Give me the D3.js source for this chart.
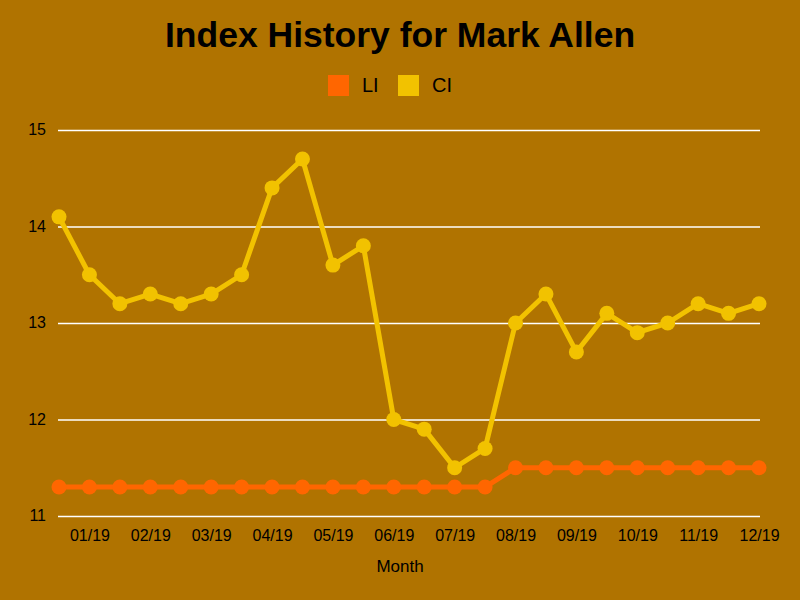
<!DOCTYPE html>
<html><head><meta charset="utf-8">
<script src="https://cdn.jsdelivr.net/npm/d3@7"></script>
<style>body{margin:0;background:#B07300;}text{font-family:"Liberation Sans",Arial,sans-serif;}</style>
</head><body><svg id="c" width="800" height="600"></svg>
<script>
const periods = ["12/18b","01/19","01/19b","02/19","02/19b","03/19","03/19b","04/19","04/19b","05/19","05/19b","06/19","06/19b","07/19","07/19b","08/19","08/19b","09/19","09/19b","10/19","10/19b","11/19","11/19b","12/19"];
const tickLabels = ["01/19","02/19","03/19","04/19","05/19","06/19","07/19","08/19","09/19","10/19","11/19","12/19"];
const liValues = [11.3,11.3,11.3,11.3,11.3,11.3,11.3,11.3,11.3,11.3,11.3,11.3,11.3,11.3,11.3,11.5,11.5,11.5,11.5,11.5,11.5,11.5,11.5,11.5];
const ciValues = [14.1,13.5,13.2,13.3,13.2,13.3,13.5,14.4,14.7,13.6,13.8,12.0,11.9,11.5,11.7,13.0,13.3,12.7,13.1,12.9,13.0,13.2,13.1,13.2];
const yTicks = [11,12,13,14,15];
const seriesNames = ["LI","CI"];
const colors = ["#FF6600","#F2C200"];

const svg = d3.select("#c");
svg.append("rect").attr("width",800).attr("height",600).attr("fill","#B07300");
const x = d3.scalePoint().domain(periods).range([59,759]);
const y = d3.scaleLinear().domain([11,15]).range([516,130]);

svg.append("text").attr("x",400).attr("y",47).attr("text-anchor","middle")
  .style("font-size","35.5px").style("font-weight","bold").text("Index History for Mark Allen");

const yAxis = d3.axisLeft(y).tickValues(yTicks).tickSize(-702).tickFormat(d3.format("d")).tickPadding(12);
svg.append("g").attr("transform","translate(58,0)").call(yAxis)
  .call(g=>g.select(".domain").remove())
  .call(g=>g.selectAll(".tick line").attr("stroke","#fff").attr("stroke-width",1.6))
  .call(g=>g.selectAll(".tick text").attr("fill","#000").style("font-size","16px").attr("x",-12).attr("dy","0.3em"));

const xAxis = d3.axisBottom(x).tickValues(tickLabels).tickSize(0).tickPadding(12);
svg.append("g").attr("transform","translate(0,518)").call(xAxis)
  .call(g=>g.select(".domain").remove())
  .call(g=>g.selectAll(".tick text").attr("fill","#000").style("font-size","16px"));

svg.append("text").attr("x",400).attr("y",572).attr("text-anchor","middle").style("font-size","17px").text("Month");

const data = [liValues, ciValues];
const line = d3.line().x((d,i)=>x(periods[i])).y(d=>y(d));
data.forEach((vals,k)=>{
  svg.append("path").attr("d",line(vals)).attr("fill","none").attr("stroke",colors[k]).attr("stroke-width",5).attr("stroke-linejoin","round");
  svg.selectAll(null).data(vals).enter().append("circle")
    .attr("cx",(d,i)=>x(periods[i])).attr("cy",d=>y(d)).attr("r",7.5).attr("fill",colors[k]);
});

const lg = svg.append("g");
const legX = [328,398];
seriesNames.forEach((n,k)=>{
  lg.append("rect").attr("x",legX[k]).attr("y",75).attr("width",21).attr("height",21).attr("fill",colors[k]);
  lg.append("text").attr("x",legX[k]+34).attr("y",92).style("font-size","20px").text(n);
});
</script></body></html>
